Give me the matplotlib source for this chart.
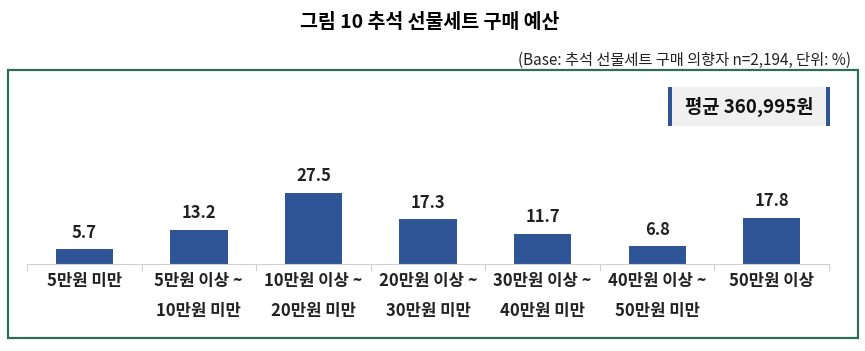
import matplotlib.pyplot as plt
from matplotlib.patches import Rectangle

plt.rcParams['font.family'] = ['Noto Sans CJK KR', 'DejaVu Sans']

categories = ['5만원 미만', '5만원 이상 ~\n10만원 미만', '10만원 이상 ~\n20만원 미만',
              '20만원 이상 ~\n30만원 미만', '30만원 이상 ~\n40만원 미만',
              '40만원 이상 ~\n50만원 미만', '50만원 이상']
values = [5.7, 13.2, 27.5, 17.3, 11.7, 6.8, 17.8]
title = '그림 10 추석 선물세트 구매 예산'
note = '(Base: 추석 선물세트 구매 의향자 n=2,194, 단위: %)'
avg_text = '평균 360,995원'

W, H = 865, 351
fig = plt.figure(figsize=(W / 100, H / 100), dpi=100)

def fx(px):
    return px / W

def fy(py):
    return 1 - py / H

# title and note
fig.text(fx(430), fy(22), title, ha='center', va='center', fontsize=14, fontweight='bold')
fig.text(fx(851), fy(60), note, ha='right', va='center', fontsize=11, color='#222222')

# green frame
fig.patches.append(Rectangle((fx(8), fy(338)), fx(850), fy(70) - fy(338),
                             transform=fig.transFigure, fill=False,
                             edgecolor='#2E6E55', linewidth=1.6))

# average box
fig.patches.append(Rectangle((fx(668), fy(126)), fx(162), fy(87) - fy(126),
                             transform=fig.transFigure, facecolor='#F0F0F0',
                             edgecolor='none'))
for xl in (668, 826):
    fig.patches.append(Rectangle((fx(xl), fy(126)), fx(4), fy(87) - fy(126),
                                 transform=fig.transFigure, facecolor='#2F5597',
                                 edgecolor='none'))
fig.text(fx(749), fy(107), avg_text, ha='center', va='center', fontsize=13.5,
         fontweight='bold', color='#111111')

# bar axes
ax_left, ax_right, ax_bottom, ax_top = 27, 829, 264, 100
ax = fig.add_axes([fx(ax_left), fy(ax_bottom), fx(ax_right - ax_left), fy(ax_top) - fy(ax_bottom)])
x = range(len(values))
ax.bar(x, values, width=0.5, color='#2F5597')
ax.set_xlim(-0.5, len(values) - 0.5)
ax.set_ylim(0, (ax_bottom - ax_top) / 2.58)

for xi, v in zip(x, values):
    ax.text(xi, v + 3.0, f'{v:.1f}', ha='center', va='bottom', fontsize=12, fontweight='bold',
            color='#222222')

for s in ('top', 'right', 'left'):
    ax.spines[s].set_visible(False)
ax.spines['bottom'].set_color('#D0D0D0')
ax.set_yticks([])
ax.set_xticks([i + 0.5 for i in range(-1, len(values))], minor=False)
ax.set_xticklabels([])
ax.tick_params(axis='x', length=5, color='#D0D0D0')
ax.set_xticks(list(x), minor=True)
ax.set_xticklabels(categories, minor=True, fontsize=12, fontweight='bold', color='#222222',
                   linespacing=1.85, va='top')
ax.tick_params(axis='x', which='minor', length=0, pad=6)

fig.savefig('out.png', dpi=100)
